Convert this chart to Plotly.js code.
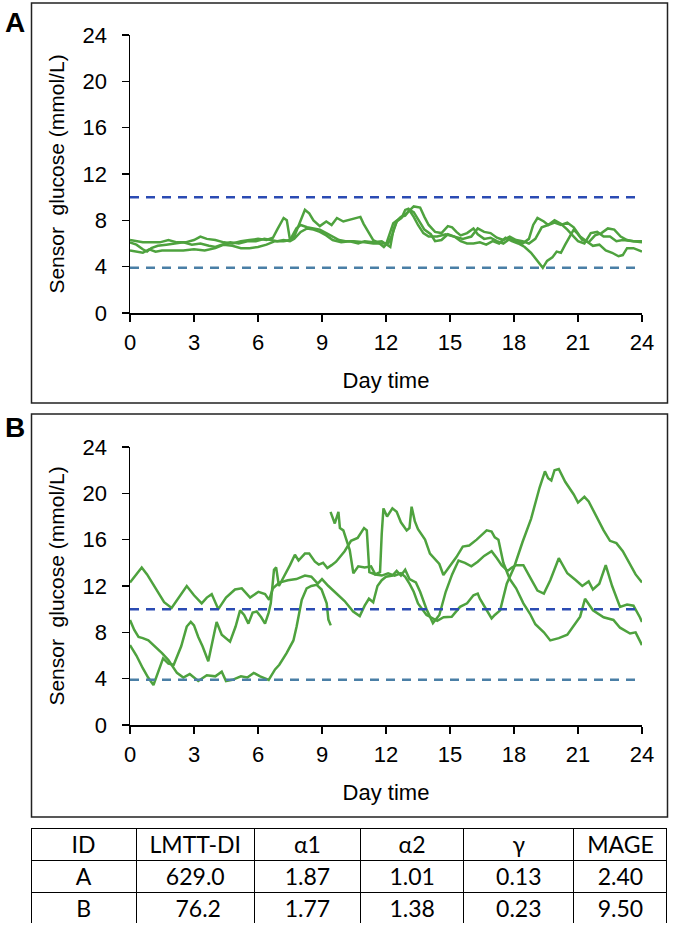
<!DOCTYPE html>
<html>
<head>
<meta charset="utf-8">
<script src="https://cdn.plot.ly/plotly-3.0.1.min.js"></script>
<style>
  html, body { margin: 0; padding: 0; background: #fff; }
  #chart { width: 674px; height: 928px; }
</style>
</head>
<body>
<div id="chart"></div>
<script>
// glucose traces, hours of the day vs mmol/L

// panel A, three days
const hoursA1 = [0, 0.3, 0.6, 1.0, 1.4, 1.8, 2.2, 2.6, 3.0, 3.3, 3.6, 4.0, 4.4, 4.8, 5.2, 5.6, 6.0, 6.4, 6.7, 6.9, 7.2, 7.35, 7.5, 7.7, 7.95, 8.2, 8.4, 8.6, 8.9, 9.2, 9.45, 9.7, 10.0, 10.2, 10.5, 10.8, 10.95, 11.1, 11.4, 11.7, 11.9, 12.0, 12.34, 12.66, 12.97, 13.3, 13.6, 13.8, 14.0, 14.3, 14.6, 14.9, 15.1, 15.3, 15.5, 15.8, 16.1, 16.3, 16.6, 16.9, 17.2, 17.5, 17.8, 18.1, 18.4, 18.7, 18.9, 19.1, 19.4, 19.6, 19.9, 20.2, 20.5, 20.8, 21.0, 21.3, 21.6, 21.9, 22.2, 22.5, 22.8, 23.1, 23.5, 24];
const glucoseA1 = [6.3, 6.2, 6.1, 6.1, 6.1, 6.3, 6.1, 6.1, 6.3, 6.6, 6.4, 6.3, 6.1, 6.0, 6.2, 6.3, 6.4, 6.3, 6.5, 7.2, 8.2, 8.0, 6.3, 6.6, 7.8, 8.9, 8.6, 8.0, 7.5, 7.9, 7.6, 8.2, 7.9, 8.0, 8.2, 8.3, 7.7, 7.2, 6.3, 6.0, 5.7, 5.9, 7.75, 8.2, 8.6, 9.2, 9.1, 8.3, 7.6, 7.0, 6.9, 7.5, 7.4, 7.0, 6.7, 6.9, 7.3, 6.8, 6.4, 6.5, 6.2, 6.0, 6.4, 6.2, 6.0, 6.4, 7.6, 8.2, 7.9, 7.6, 8.0, 7.7, 7.2, 6.6, 6.2, 6.0, 6.9, 7.0, 6.6, 6.6, 6.2, 6.3, 6.2, 6.1];

const hoursA2 = [0, 0.3, 0.6, 0.9, 1.2, 1.5, 2.0, 2.5, 3.0, 3.5, 4.0, 4.4, 4.8, 5.2, 5.6, 6.0, 6.4, 6.8, 7.2, 7.5, 7.8, 8.0, 8.3, 8.6, 8.9, 9.2, 9.5, 9.8, 10.1, 10.5, 11.0, 11.4, 11.8, 12.1, 12.3, 12.5, 12.7, 12.9, 13.1, 13.3, 13.6, 13.8, 14.1, 14.3, 14.6, 14.9, 15.2, 15.5, 15.8, 16.1, 16.4, 16.7, 17.0, 17.3, 17.6, 17.9, 18.2, 18.5, 18.8, 19.05, 19.35, 19.55, 19.8, 20.0, 20.2, 20.4, 20.6, 20.8, 21.0, 21.2, 21.5, 21.8, 22.1, 22.4, 22.7, 23.0, 23.3, 23.6, 24];
const glucoseA2 = [5.4, 5.3, 5.2, 5.5, 5.3, 5.4, 5.4, 5.4, 5.5, 5.4, 5.6, 5.9, 5.8, 5.6, 5.6, 5.7, 5.9, 6.2, 6.2, 6.3, 7.3, 7.6, 7.4, 7.3, 7.2, 6.9, 6.6, 6.3, 6.2, 6.2, 6.1, 6.0, 6.0, 6.0, 6.8, 7.9, 8.3, 8.4, 8.9, 8.7, 7.8, 7.2, 6.8, 6.2, 6.3, 6.8, 6.6, 6.2, 6.0, 6.0, 6.1, 5.9, 6.2, 6.0, 6.5, 6.2, 6.0, 5.7, 5.2, 4.6, 3.9, 4.5, 4.8, 5.3, 5.2, 5.9, 6.6, 7.2, 6.8, 6.3, 6.1, 6.7, 6.9, 7.3, 7.2, 6.6, 6.3, 6.2, 6.2];

const hoursA3 = [0, 0.3, 0.6, 0.8, 1.0, 1.3, 1.7, 2.1, 2.5, 2.9, 3.3, 3.7, 4.0, 4.3, 4.7, 5.1, 5.5, 5.9, 6.3, 6.6, 6.9, 7.2, 7.5, 7.7, 8.0, 8.3, 8.6, 8.9, 9.2, 9.5, 9.9, 10.3, 10.7, 11.0, 11.4, 11.8, 12.2, 12.35, 12.5, 12.73, 12.9, 13.05, 13.3, 13.5, 13.75, 14.0, 14.4, 14.8, 15.2, 15.6, 16.0, 16.3, 16.6, 16.9, 17.2, 17.5, 17.8, 18.1, 18.4, 18.7, 19.0, 19.3, 19.6, 19.9, 20.2, 20.5, 20.8, 21.1, 21.4, 21.7, 22.0, 22.3, 22.6, 22.9, 23.1, 23.3, 23.6, 24];
const glucoseA3 = [6.1, 5.9, 5.5, 5.3, 5.6, 5.8, 5.9, 6.0, 6.1, 5.9, 6.0, 5.8, 5.7, 5.9, 6.1, 6.0, 6.2, 6.2, 6.4, 6.3, 6.2, 6.3, 6.2, 6.4, 7.0, 7.3, 7.2, 7.0, 6.7, 6.3, 6.1, 6.2, 6.0, 6.2, 6.1, 6.2, 5.7, 7.2, 7.9, 8.2, 8.9, 9.0, 8.3, 7.6, 6.9, 6.6, 6.6, 6.8, 6.6, 6.4, 6.6, 7.3, 7.0, 6.9, 6.5, 6.3, 6.6, 6.3, 6.2, 6.0, 6.4, 7.4, 7.6, 7.8, 7.6, 7.8, 7.4, 6.6, 6.2, 5.8, 5.9, 5.4, 5.2, 4.9, 5.0, 5.6, 5.6, 5.3];

// panel B, three days (the second one stops at 9.4 h and a new run starts)
const hoursB1 = [0, 0.3, 0.55, 0.8, 1.0, 1.3, 1.6, 1.95, 2.3, 2.66, 3.0, 3.36, 3.6, 3.83, 4.14, 4.5, 4.92, 5.24, 5.63, 6.02, 6.33, 6.52, 6.7, 7.0, 7.4, 7.8, 8.2, 8.5, 8.8, 9.0, 9.3, 9.6, 10.06, 10.46, 10.77, 11.0, 11.2, 11.4, 11.6, 11.8, 12.0, 12.3, 12.5, 12.7, 12.9, 13.1, 13.4, 13.6, 13.9, 14.2, 14.5, 14.8, 15.1, 15.4, 15.7, 16.0, 16.3, 16.6, 16.95, 17.2, 17.42, 17.7, 17.9, 18.1, 18.44, 18.8, 19.1, 19.4, 19.7, 20.1, 20.5, 20.9, 21.2, 21.5, 21.7, 22.0, 22.3, 22.6, 22.97, 23.3, 23.6, 23.9, 24];
const glucoseB1 = [12.3, 13.0, 13.6, 13.0, 12.4, 11.5, 10.6, 10.1, 11.0, 12.0, 11.2, 10.5, 11.0, 11.3, 10.0, 11.0, 11.7, 11.8, 11.0, 11.5, 11.3, 10.8, 11.8, 12.3, 12.5, 12.6, 12.9, 12.8, 12.2, 12.6, 12.0, 11.5, 10.7, 9.8, 9.4, 10.3, 10.9, 10.6, 12.0, 12.5, 12.8, 12.9, 13.3, 12.9, 13.4, 12.6, 12.3, 11.5, 10.0, 8.8, 9.5, 11.5, 13.0, 14.2, 14.0, 13.7, 14.1, 14.6, 15.0, 14.4, 13.8, 13.3, 13.6, 13.8, 13.8, 12.6, 11.6, 11.35, 12.5, 14.4, 13.1, 12.5, 12.0, 12.4, 11.7, 12.2, 13.8, 12.0, 10.2, 10.4, 10.3, 9.3, 8.9];

const hoursB2 = [0, 0.2, 0.4, 0.6, 0.86, 1.17, 1.5, 1.8, 2.0, 2.2, 2.5, 2.8, 3.2, 3.6, 4.0, 4.3, 4.5, 4.8, 5.2, 5.5, 5.8, 6.1, 6.5, 6.8, 7.0, 7.34, 7.66, 7.81, 8.05, 8.28, 8.5, 8.75, 8.98, 9.22, 9.3, 9.41];
const glucoseB2 = [9.07, 8.2, 7.6, 7.5, 7.3, 6.8, 6.2, 5.6, 5.0, 4.5, 4.1, 4.4, 3.8, 4.3, 4.2, 4.6, 3.8, 3.9, 4.2, 4.1, 4.5, 4.2, 3.9, 4.8, 5.2, 6.2, 7.3, 8.5, 10.8, 11.8, 12.0, 12.1, 11.7, 10.5, 9.1, 8.6];

const hoursB3 = [0, 0.3, 0.6, 0.85, 1.1, 1.3, 1.55, 1.8, 2.05, 2.4, 2.66, 2.85, 3.0, 3.2, 3.4, 3.67, 3.85, 4.06, 4.3, 4.69, 4.95, 5.16, 5.35, 5.55, 5.75, 5.94, 6.15, 6.33, 6.5, 6.6, 6.75, 6.85, 6.98, 7.1, 7.3, 7.5, 7.73, 7.9, 8.2, 8.4, 8.67, 8.85, 9.05, 9.25, 9.45, 9.66, 10.06, 10.36, 10.67, 10.97, 11.1, 11.22, 11.5, 11.8, 12.1, 12.4, 12.7, 12.9, 13.1, 13.3, 13.5, 13.7, 13.9, 14.1, 14.4, 14.7, 15.08, 15.47, 15.8, 16.1, 16.3, 16.4, 16.7, 16.95, 17.1, 17.35, 17.66, 18.0, 18.4, 18.8, 19.2, 19.45, 19.6, 19.75, 19.9, 20.1, 20.4, 20.8, 21.0, 21.3, 21.5, 21.9, 22.2, 22.5, 22.8, 23.1, 23.4, 23.7, 24];
const glucoseB3 = [6.9, 6.0, 4.9, 4.1, 3.45, 4.5, 5.75, 5.3, 5.2, 6.8, 8.5, 8.9, 8.6, 7.6, 6.8, 5.5, 7.0, 8.9, 7.8, 7.2, 8.5, 9.9, 9.5, 8.75, 9.7, 9.8, 9.3, 8.75, 9.7, 10.5, 13.4, 13.6, 12.0, 12.4, 13.0, 13.8, 14.7, 14.2, 14.8, 14.8, 14.1, 13.85, 14.0, 13.55, 13.8, 14.1, 15.0, 15.9, 16.15, 17.0, 16.8, 13.2, 13.0, 12.9, 13.1, 12.9, 13.1, 12.8, 12.2, 11.5, 10.5, 10.0, 9.5, 9.3, 9.0, 9.3, 9.35, 10.2, 10.5, 11.2, 11.35, 10.9, 10.0, 9.2, 9.5, 9.9, 12.2, 13.6, 15.8, 17.8, 20.5, 21.9, 21.3, 21.1, 22.0, 22.1, 21.0, 19.9, 19.2, 19.7, 19.3, 17.8, 16.8, 15.9, 15.7, 15.0, 14.0, 13.0, 12.3];

const hoursB4 = [9.4, 9.6, 9.77, 9.84, 10.0, 10.15, 10.3, 10.47, 10.7, 11.0, 11.3, 11.5, 11.72, 11.8, 11.88, 12.05, 12.3, 12.5, 12.7, 12.97, 13.1, 13.2, 13.35, 13.5, 13.83, 14.06, 14.5, 14.69, 14.9, 15.3, 15.6, 15.9, 16.25, 16.5, 16.72, 16.95, 17.1, 17.27, 17.5, 17.8, 18.1, 18.44, 18.75, 19.0, 19.4, 19.7, 20.1, 20.5, 21.1, 21.33, 21.7, 22.2, 22.66, 22.97, 23.44, 23.7, 23.9, 24];
const glucoseB4 = [18.4, 17.4, 18.4, 17.0, 16.8, 16.0, 15.1, 13.1, 13.7, 13.6, 13.7, 13.0, 13.2, 16.5, 18.7, 18.0, 18.7, 18.4, 17.5, 16.8, 17.0, 18.85, 17.6, 16.9, 16.0, 14.8, 13.9, 12.95, 13.5, 14.5, 15.4, 15.5, 16.0, 16.4, 16.8, 16.7, 16.2, 16.0, 14.0, 12.6, 11.8, 10.5, 9.6, 8.7, 8.0, 7.3, 7.5, 7.8, 9.35, 10.9, 9.9, 9.3, 9.07, 8.4, 7.9, 8.0, 7.2, 6.9];

// target range
const dayEnds = [0, 24];
const upperLimit = 10;
const lowerLimit = 3.9;

// table under the charts
const tableHeader = ['ID', 'LMTT-DI', 'α1', 'α2', 'γ', 'MAGE'];
const tableIds = ['A', 'B'];
const tableLmtt = ['629.0', '\u00a076.2'];
const tableAlpha1 = ['1.87', '1.77'];
const tableAlpha2 = ['1.01', '1.38'];
const tableGamma = ['0.13', '0.23'];
const tableMage = ['2.40', '9.50'];

const W = 674, H = 928;
const px = x => x / W;
const py = y => 1 - y / H;

const green = '#4ea23e';
const fontMain = 'Liberation Sans, Arial, sans-serif';
const fontTable = 'Lato, sans-serif';

function glucoseLine(x, y, xa, ya) {
    return {
        x: x, y: y, xaxis: xa, yaxis: ya,
        type: 'scatter', mode: 'lines',
        line: {color: green, width: 2.5},
        hoverinfo: 'skip'
    };
}

function limitLine(level, color, xa, ya) {
    return {
        x: dayEnds, y: dayEnds.map(() => level), xaxis: xa, yaxis: ya,
        type: 'scatter', mode: 'lines',
        line: {color: color, width: 2.5, dash: '9px,7px'},
        hoverinfo: 'skip'
    };
}

const traces = [
    glucoseLine(hoursA1, glucoseA1, 'x', 'y'),
    glucoseLine(hoursA2, glucoseA2, 'x', 'y'),
    glucoseLine(hoursA3, glucoseA3, 'x', 'y'),
    limitLine(upperLimit, '#2b4bb3', 'x', 'y'),
    limitLine(lowerLimit, '#4a7fa6', 'x', 'y'),
    glucoseLine(hoursB1, glucoseB1, 'x2', 'y2'),
    glucoseLine(hoursB2, glucoseB2, 'x2', 'y2'),
    glucoseLine(hoursB3, glucoseB3, 'x2', 'y2'),
    glucoseLine(hoursB4, glucoseB4, 'x2', 'y2'),
    limitLine(upperLimit, '#2b4bb3', 'x2', 'y2'),
    limitLine(lowerLimit, '#4a7fa6', 'x2', 'y2'),
    {
        type: 'table',
        domain: {x: [px(31), px(667)], y: [py(924), py(828)]},
        columnwidth: [105, 118, 106, 103, 110, 93],
        header: {
            values: tableHeader,
            align: 'center',
            height: 32,
            line: {color: '#000', width: 1},
            fill: {color: '#fff'},
            font: {family: fontTable, size: 23, color: '#000'}
        },
        cells: {
            values: [tableIds, tableLmtt, tableAlpha1, tableAlpha2, tableGamma, tableMage],
            align: 'center',
            height: 32,
            line: {color: '#000', width: 1},
            fill: {color: '#fff'},
            font: {family: fontTable, size: 23, color: '#000'}
        }
    }
];

const xAxisBase = {
    domain: [px(130), px(642)],
    range: [0, 24],
    tick0: 0, dtick: 3,
    ticks: 'outside', ticklen: 7, tickwidth: 1.5, tickcolor: '#000',
    showline: true, linewidth: 1.5, linecolor: '#000',
    showgrid: false, zeroline: false,
    tickfont: {family: fontMain, size: 22, color: '#000'},
    ticklabelstandoff: 2,
    title: {text: 'Day time', font: {family: fontMain, size: 22, color: '#000'}, standoff: 18}
};

const yAxisBase = {
    range: [0, 24],
    tick0: 0, dtick: 4,
    ticks: 'outside', ticklen: 7, tickwidth: 1.5, tickcolor: '#000',
    showline: true, linewidth: 1.5, linecolor: '#000',
    showgrid: false, zeroline: false,
    tickfont: {family: fontMain, size: 22, color: '#000'},
    ticklabelstandoff: 10,
    title: {text: 'Sensor  glucose (mmol/L)', font: {family: fontMain, size: 21, color: '#000'}, standoff: 12}
};

const layout = {
    width: W, height: H,
    margin: {l: 0, r: 0, t: 0, b: 0},
    paper_bgcolor: '#fff',
    plot_bgcolor: 'rgba(0,0,0,0)',
    showlegend: false,
    xaxis: Object.assign({}, xAxisBase, {anchor: 'y'}),
    yaxis: Object.assign({}, yAxisBase, {anchor: 'x', domain: [py(313), py(35)]}),
    xaxis2: Object.assign({}, xAxisBase, {anchor: 'y2'}),
    yaxis2: Object.assign({}, yAxisBase, {anchor: 'x2', domain: [py(725), py(447)]}),
    shapes: [
        {type: 'rect', xref: 'paper', yref: 'paper', x0: px(31.5), x1: px(667.5), y0: py(403), y1: py(3),
         line: {color: '#222', width: 1.5}},
        {type: 'rect', xref: 'paper', yref: 'paper', x0: px(31.5), x1: px(667.5), y0: py(817), y1: py(414),
         line: {color: '#222', width: 1.5}}
    ],
    annotations: [
        {text: '<b>A</b>', xref: 'paper', yref: 'paper', x: px(15), y: py(23), xanchor: 'center', yanchor: 'middle',
         showarrow: false, font: {family: fontMain, size: 28, color: '#000'}},
        {text: '<b>B</b>', xref: 'paper', yref: 'paper', x: px(15), y: py(427), xanchor: 'center', yanchor: 'middle',
         showarrow: false, font: {family: fontMain, size: 28, color: '#000'}}
    ]
};

Plotly.newPlot('chart', traces, layout, {displayModeBar: false, staticPlot: true});
</script>
</body>
</html>
